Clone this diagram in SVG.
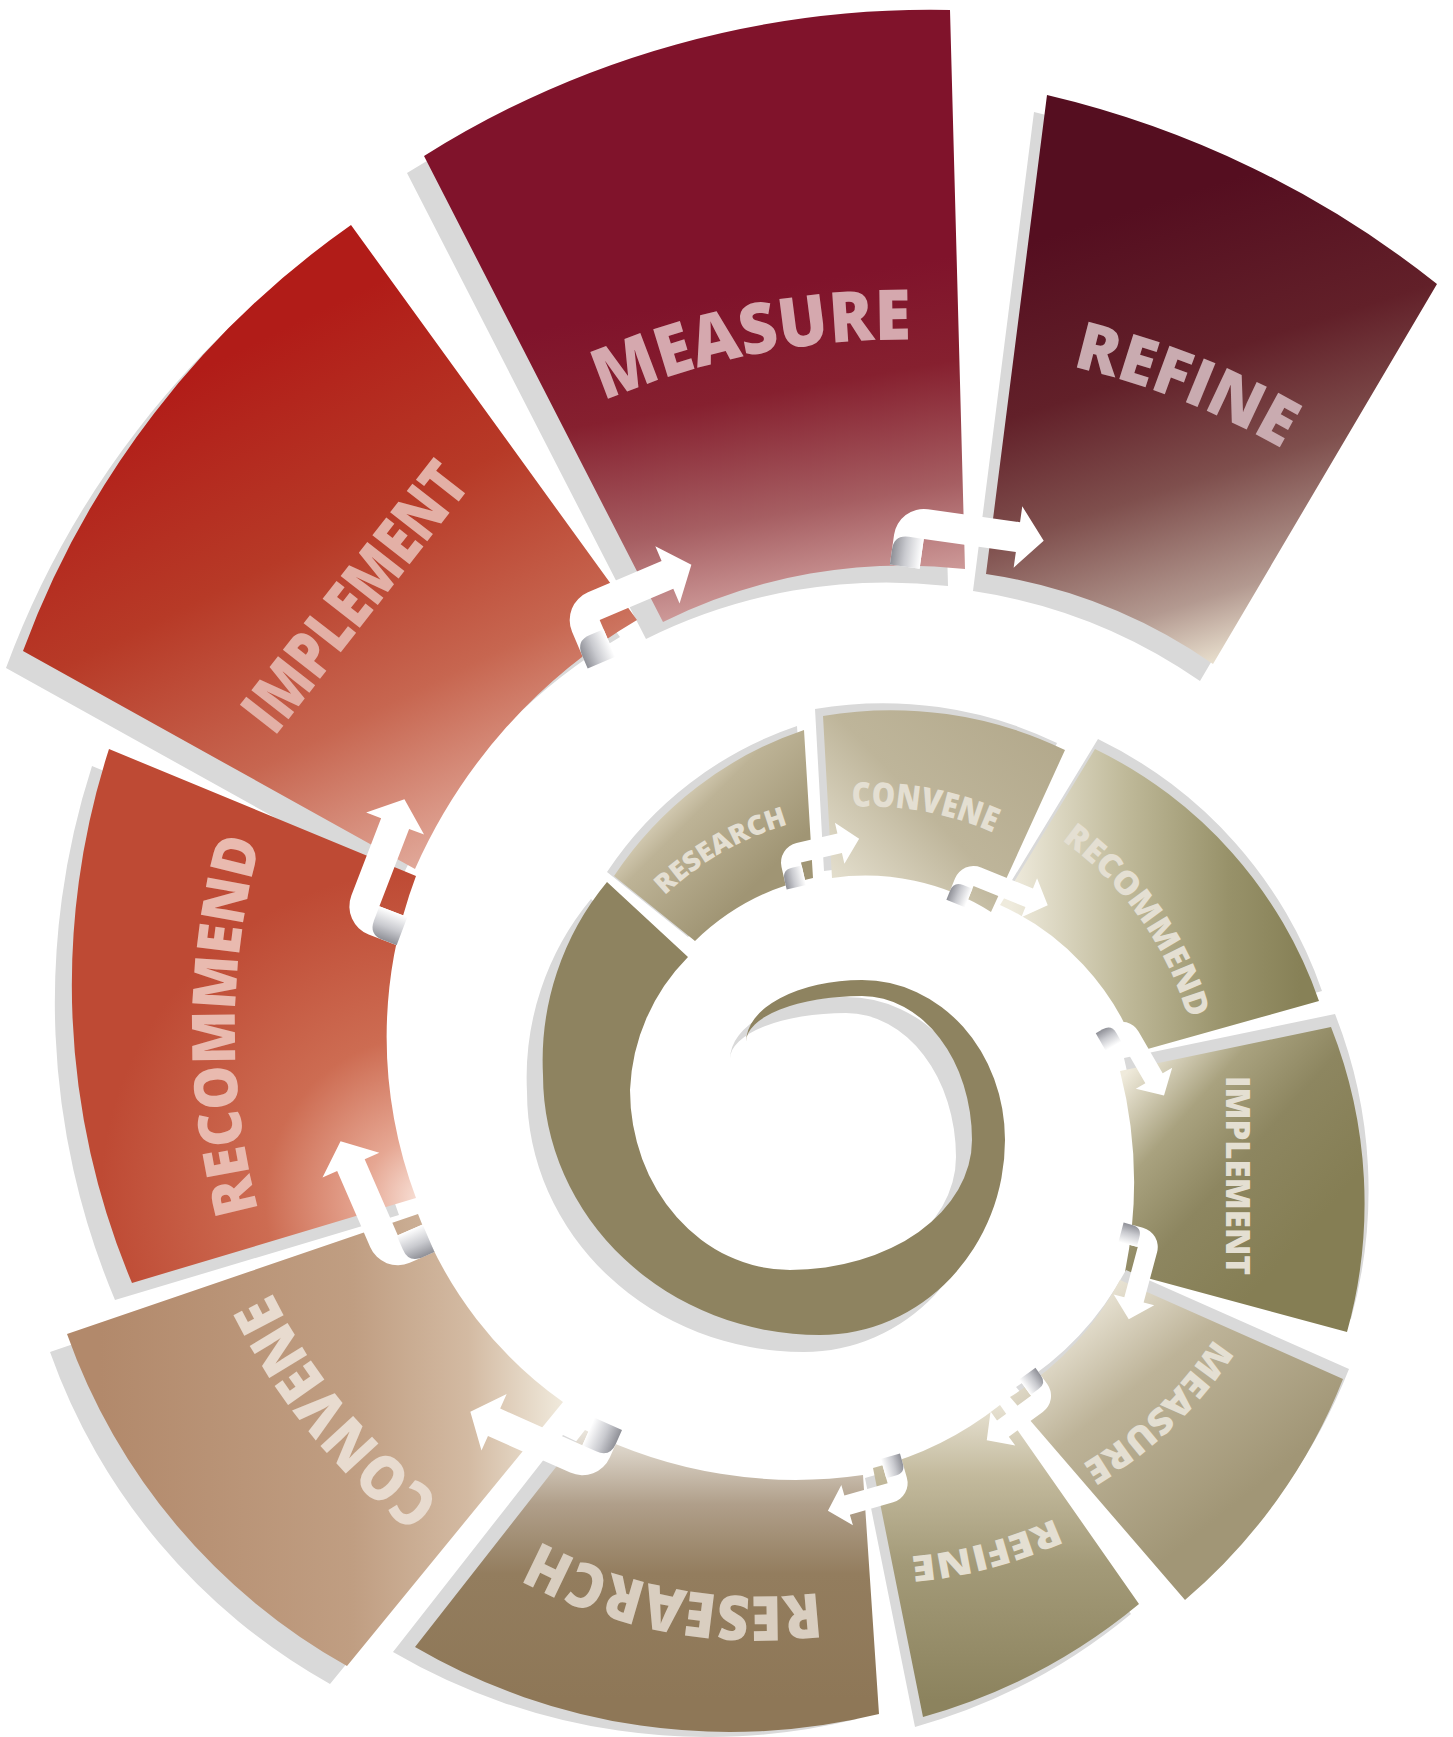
<svg xmlns="http://www.w3.org/2000/svg" width="1453" height="1737" viewBox="0 0 1453 1737">
<defs>
<style>
.sh{fill:#d9d9d9}
.lbl{font-family:'Open Sans','Liberation Sans',sans-serif;font-weight:800;text-anchor:middle}
.in{fill:#e4dfd2}
.arw{fill:#ffffff}
.curl{fill:url(#gCurl)}
</style>
<linearGradient id="gCurl" x1="0" y1="0" x2="1" y2="0">
<stop offset="0" stop-color="#8f9097"/><stop offset="0.45" stop-color="#c9cacf"/><stop offset="1" stop-color="#ffffff"/>
</linearGradient>
<linearGradient id="gMeasure" gradientUnits="userSpaceOnUse" x1="700" y1="300" x2="760" y2="640">
<stop offset="0" stop-color="#80132B"/><stop offset="0.3" stop-color="#86202F"/><stop offset="0.65" stop-color="#A65E62"/><stop offset="1" stop-color="#DDB1AE"/>
</linearGradient>
<linearGradient id="gRefine" gradientUnits="userSpaceOnUse" x1="1100" y1="220" x2="1240" y2="660">
<stop offset="0" stop-color="#550E20"/><stop offset="0.35" stop-color="#622029"/><stop offset="0.6" stop-color="#7F4F4D"/><stop offset="0.85" stop-color="#B39990"/><stop offset="1" stop-color="#ECE4D2"/>
</linearGradient>
<linearGradient id="gImpl" gradientUnits="userSpaceOnUse" x1="280" y1="330" x2="540" y2="860">
<stop offset="0" stop-color="#B11C18"/><stop offset="0.35" stop-color="#B73A27"/><stop offset="0.65" stop-color="#C76650"/><stop offset="1" stop-color="#E8BBAE"/>
</linearGradient>
<radialGradient id="gRec" gradientUnits="userSpaceOnUse" cx="430" cy="1200" r="330">
<stop offset="0" stop-color="#FBEAE2"/><stop offset="0.2" stop-color="#E6A793"/><stop offset="0.5" stop-color="#CD6C52"/><stop offset="1" stop-color="#BE4A34"/>
</radialGradient>
<linearGradient id="gConv" gradientUnits="userSpaceOnUse" x1="100" y1="0" x2="560" y2="0">
<stop offset="0" stop-color="#B2896B"/><stop offset="0.55" stop-color="#C09E82"/><stop offset="0.8" stop-color="#D3BAA2"/><stop offset="1" stop-color="#EFE8DA"/>
</linearGradient>
<linearGradient id="gRes" gradientUnits="userSpaceOnUse" x1="0" y1="1700" x2="0" y2="1420">
<stop offset="0" stop-color="#8E7757"/><stop offset="0.45" stop-color="#937D5E"/><stop offset="0.7" stop-color="#B09F8A"/><stop offset="1" stop-color="#F2EFE8"/>
</linearGradient>
<linearGradient id="gResS" gradientUnits="userSpaceOnUse" x1="660" y1="780" x2="760" y2="880">
<stop offset="0" stop-color="#EAE3D0"/><stop offset="0.35" stop-color="#BDB396"/><stop offset="1" stop-color="#A09574"/>
</linearGradient>
<linearGradient id="gConvS" gradientUnits="userSpaceOnUse" x1="1040" y1="720" x2="850" y2="900">
<stop offset="0" stop-color="#B3A98C"/><stop offset="0.55" stop-color="#BEB59A"/><stop offset="1" stop-color="#E4DFCE"/>
</linearGradient>
<linearGradient id="gRecS" gradientUnits="userSpaceOnUse" x1="1010" y1="0" x2="1300" y2="0">
<stop offset="0" stop-color="#EFEBDD"/><stop offset="0.4" stop-color="#BFB999"/><stop offset="0.75" stop-color="#98926A"/><stop offset="1" stop-color="#878157"/>
</linearGradient>
<linearGradient id="gImpS" gradientUnits="userSpaceOnUse" x1="1120" y1="1080" x2="1300" y2="1240">
<stop offset="0" stop-color="#EFEADB"/><stop offset="0.3" stop-color="#A9A27F"/><stop offset="0.6" stop-color="#8D8660"/><stop offset="1" stop-color="#857E54"/>
</linearGradient>
<linearGradient id="gMeaS" gradientUnits="userSpaceOnUse" x1="1080" y1="1300" x2="1240" y2="1500">
<stop offset="0" stop-color="#ECE7D9"/><stop offset="0.4" stop-color="#BDB398"/><stop offset="1" stop-color="#A19676"/>
</linearGradient>
<linearGradient id="gRefS" gradientUnits="userSpaceOnUse" x1="0" y1="1400" x2="0" y2="1700">
<stop offset="0" stop-color="#EAE5D7"/><stop offset="0.25" stop-color="#C3BA9D"/><stop offset="0.55" stop-color="#A39A78"/><stop offset="1" stop-color="#8C835E"/>
</linearGradient>

<path id="sMeasure" d="M424,156 A950,950 0 0 1 950,10 L965,569 A540,540 0 0 0 663,622 Z"/>
<path id="sRefine" d="M1047,95 A990,990 0 0 1 1437,284 L1213,664 A538,538 0 0 0 986,574 Z"/>
<path id="sImpl" d="M23,651 A900,900 0 0 1 351,225 L637,620 A545,545 0 0 0 415,869 Z"/>
<path id="sRec" d="M132,1283 A768,768 0 0 1 109,749 L416,876 A456,456 0 0 0 416,1198 Z"/>
<path id="sConv" d="M347,1666 A616,616 0 0 1 67,1334 L418,1214 A404,404 0 0 0 563,1402 Z"/>
<path id="sRes" d="M879,1714 A626,626 0 0 1 415,1647 L585,1430 A470,470 0 0 0 863,1475 Z"/>
<path id="sResS" d="M614,876 A370,370 0 0 1 804,730 L813,878 A241,241 0 0 0 695,941 Z"/>
<path id="sConvS" d="M823,716 A400,400 0 0 1 1065,750 L991,912 A235,235 0 0 0 832,878 Z"/>
<path id="sRecS" d="M1095,749 A440,440 0 0 1 1319,1001 L1137,1052 A260,260 0 0 0 1000,905 Z"/>
<path id="sImpS" d="M1331,1027 A480,480 0 0 1 1347,1332 L1125,1272 A450,450 0 0 0 1120,1071 Z"/>
<path id="sMeaS" d="M1343,1379 A560,560 0 0 1 1185,1600 L1010,1397 A310,310 0 0 0 1120,1280 Z"/>
<path id="sRefS" d="M1139,1604 A585,585 0 0 1 923,1717 L873,1468 A340,340 0 0 0 1000,1405 Z"/>
<path id="sSwirl" d="M607,882 A280,280 0 0 0 543,1075 A277,260 0 0 0 820,1335 A185,195 0 0 0 1005,1140 A143,160 0 0 0 862,980 A116,62 0 0 0 746,1042 A116,46 0 0 1 862,996 A110,144 0 0 1 972,1140 A182,130 0 0 1 790,1270 A160,180 0 0 1 630,1090 A200,200 0 0 1 688,957 Z"/>

<path id="pMeasure" d="M143.6,1188.9 A765,765 0 0 1 1638.3,890.3"/>
<path id="pRefine" d="M225.9,768.4 A757,757 0 0 1 1630.2,1318.7"/>
<path id="pRec" d="M874.3,1731.9 A705,705 0 0 1 882.8,327.3"/>
<path id="pConv" d="M1132.3,1518.3 A589,589 0 0 1 388.3,610.8"/>
<path id="pRes" d="M1209.1,1254.5 A466,466 0 0 1 296.1,1085.3"/>
<path id="pResS" d="M600.6,1235 A297,297 0 0 1 1113.6,940.1"/>
<path id="pConvS" d="M577.7,1030 A303,303 0 0 1 1171.7,1138"/>
<path id="pRecS" d="M703,824.2 A331,331 0 0 1 1084.1,1362.4"/>
<path id="pMeaS" d="M1192.3,851.8 A413,413 0 0 1 597.4,1420.3"/>
<path id="pRefS" d="M1311.5,1033.7 A448,448 0 0 1 448.5,1261.8"/>
</defs>

<rect x="0" y="0" width="1453" height="1737" fill="#ffffff"/>

<g id="node-measure">
<use href="#sMeasure" class="sh" transform="translate(-17,17)"/>
<use href="#sMeasure" fill="url(#gMeasure)"/>
<text class="lbl" font-size="70" fill="#D5A8AE"><textPath href="#pMeasure" startOffset="50%" textLength="316" lengthAdjust="spacingAndGlyphs">MEASURE</textPath></text>
</g>
<g id="node-refine">
<use href="#sRefine" class="sh" transform="translate(-13,17)"/>
<use href="#sRefine" fill="url(#gRefine)"/>
<text class="lbl" font-size="66" fill="#C9ABB0"><textPath href="#pRefine" startOffset="50%" textLength="227" lengthAdjust="spacingAndGlyphs">REFINE</textPath></text>
</g>
<g id="node-implement">
<use href="#sImpl" class="sh" transform="translate(-17,17)"/>
<use href="#sImpl" fill="url(#gImpl)"/>
<text class="lbl" font-size="66" fill="#E3B0A6" transform="translate(373,611) rotate(-52)" textLength="320" lengthAdjust="spacingAndGlyphs">IMPLEMENT</text>
</g>
<g id="node-recommend">
<use href="#sRec" class="sh" transform="translate(-17,17)"/>
<use href="#sRec" fill="url(#gRec)"/>
<text class="lbl" font-size="60" fill="#E9BAAF"><textPath href="#pRec" startOffset="50%" textLength="373" lengthAdjust="spacingAndGlyphs">RECOMMEND</textPath></text>
</g>
<g id="node-convene">
<use href="#sConv" class="sh" transform="translate(-17,18)"/>
<use href="#sConv" fill="url(#gConv)"/>
<text class="lbl" font-size="62" fill="#E8DBCF"><textPath href="#pConv" startOffset="50%" textLength="270" lengthAdjust="spacingAndGlyphs">CONVENE</textPath></text>
</g>
<g id="node-research">
<use href="#sRes" class="sh" transform="translate(-22,5)"/>
<use href="#sRes" fill="url(#gRes)"/>
<text class="lbl" font-size="62" fill="#D9CEC0"><textPath href="#pRes" startOffset="50%" textLength="290" lengthAdjust="spacingAndGlyphs">RESEARCH</textPath></text>
</g>

<g id="node-core">
<use href="#sSwirl" class="sh" transform="translate(-16,17)"/>
<use href="#sSwirl" fill="#8E8360"/>
</g>

<g id="node-research-inner">
<use href="#sResS" class="sh" transform="translate(-7,-4)"/>
<use href="#sResS" fill="url(#gResS)"/>
<text class="lbl in" font-size="27"><textPath href="#pResS" startOffset="50%" textLength="144" lengthAdjust="spacingAndGlyphs">RESEARCH</textPath></text>
</g>
<g id="node-convene-inner">
<use href="#sConvS" class="sh" transform="translate(-8,-7)"/>
<use href="#sConvS" fill="url(#gConvS)"/>
<text class="lbl in" font-size="34"><textPath href="#pConvS" startOffset="50%" textLength="145" lengthAdjust="spacingAndGlyphs">CONVENE</textPath></text>
</g>
<g id="node-recommend-inner">
<use href="#sRecS" class="sh" transform="translate(3,-10)"/>
<use href="#sRecS" fill="url(#gRecS)"/>
<text class="lbl in" font-size="33"><textPath href="#pRecS" startOffset="50%" textLength="223" lengthAdjust="spacingAndGlyphs">RECOMMEND</textPath></text>
</g>
<g id="node-implement-inner">
<use href="#sImpS" class="sh" transform="translate(4,-13)"/>
<use href="#sImpS" fill="url(#gImpS)"/>
<text class="lbl in" font-size="34" transform="translate(1226,1175.5) rotate(90)" textLength="199" lengthAdjust="spacingAndGlyphs">IMPLEMENT</text>
</g>
<g id="node-measure-inner">
<use href="#sMeaS" class="sh" transform="translate(6,-10)"/>
<use href="#sMeaS" fill="url(#gMeaS)"/>
<text class="lbl in" font-size="36"><textPath href="#pMeaS" startOffset="50%" textLength="184" lengthAdjust="spacingAndGlyphs">MEASURE</textPath></text>
</g>
<g id="node-refine-inner">
<use href="#sRefS" class="sh" transform="translate(-8,10)"/>
<use href="#sRefS" fill="url(#gRefS)"/>
<text class="lbl in" font-size="36"><textPath href="#pRefS" startOffset="50%" textLength="150" lengthAdjust="spacingAndGlyphs">REFINE</textPath></text>
</g>

<g id="connectors">
<g transform="translate(580,612) rotate(-23)"><path class="arw" d="M-15,55 L-15,15 A30,30 0 0 1 15,-15 L95,-15 L95,-31 L121,0 L95,31 L95,15 L15,15 L15,55 Z"/><path class="curl" d="M-15,55 L-15,40 Q-15,25 0,25 L15,25 L15,55 Z"/></g>
<g transform="translate(911,522) rotate(8)"><path class="arw" d="M-15,45 L-15,15 A30,30 0 0 1 15,-15 L108,-15 L108,-31 L134,0 L108,31 L108,15 L15,15 L15,45 Z"/><path class="curl" d="M-15,45 L-15,30 Q-15,15 0,15 L15,15 L15,45 Z"/></g>
<g transform="translate(360,915) rotate(-69)"><path class="arw" d="M-15,45 L-15,15 A30,30 0 0 1 15,-15 L98,-15 L98,-31 L124,0 L98,31 L98,15 L15,15 L15,45 Z"/><path class="curl" d="M-15,45 L-15,30 Q-15,15 0,15 L15,15 L15,45 Z"/></g>
<g transform="translate(390,1255) rotate(-113.5)"><path class="arw" d="M-15,42 L-15,15 A30,30 0 0 1 15,-15 L98,-15 L98,-31 L124,0 L98,31 L98,15 L15,15 L15,42 Z"/><path class="curl" d="M-15,42 L-15,29 Q-15,14 0,14 L15,14 L15,42 Z"/></g>
<g transform="translate(590,1465) rotate(-156)"><path class="arw" d="M-15,45 L-15,15 A30,30 0 0 1 15,-15 L105,-15 L105,-31 L131,0 L105,31 L105,15 L15,15 L15,45 Z"/><path class="curl" d="M-15,45 L-15,30 Q-15,15 0,15 L15,15 L15,45 Z"/></g>
<g transform="translate(900,1490) rotate(164)"><path class="arw" d="M-10,35 L-10,10 A20,20 0 0 1 10,-10 L55,-10 L55,-21 L75,0 L55,21 L55,10 L10,10 L10,35 Z"/><path class="curl" d="M-10,35 L-10,25 Q-10,15 0,15 L10,15 L10,35 Z"/></g>
<g transform="translate(789,855) rotate(-13)"><path class="arw" d="M-10,33 L-10,10 A20,20 0 0 1 10,-10 L52,-10 L52,-21 L72,0 L52,21 L52,10 L10,10 L10,33 Z"/><path class="curl" d="M-10,33 L-10,23 Q-10,13 0,13 L10,13 L10,33 Z"/></g>
<g transform="translate(968,873) rotate(22)"><path class="arw" d="M-10,33 L-10,10 A20,20 0 0 1 10,-10 L66,-10 L66,-21 L86,0 L66,21 L66,10 L10,10 L10,33 Z"/><path class="curl" d="M-10,33 L-10,23 Q-10,13 0,13 L10,13 L10,33 Z"/></g>
<g transform="translate(1125,1028) rotate(60)"><path class="arw" d="M-10,28 L-10,10 A20,20 0 0 1 10,-10 L58,-10 L58,-21 L78,0 L58,21 L58,10 L10,10 L10,28 Z"/><path class="curl" d="M-10,28 L-10,20 Q-10,10 0,10 L10,10 L10,28 Z"/></g>
<g transform="translate(1150,1240) rotate(105)"><path class="arw" d="M-10,30 L-10,10 A20,20 0 0 1 10,-10 L62,-10 L62,-21 L82,0 L62,21 L62,10 L10,10 L10,30 Z"/><path class="curl" d="M-10,30 L-10,21 Q-10,11 0,11 L10,11 L10,30 Z"/></g>
<g transform="translate(1045,1398) rotate(144)"><path class="arw" d="M-10,30 L-10,10 A20,20 0 0 1 10,-10 L52,-10 L52,-21 L72,0 L52,21 L52,10 L10,10 L10,30 Z"/><path class="curl" d="M-10,30 L-10,21 Q-10,11 0,11 L10,11 L10,30 Z"/></g>
</g>
</svg>
